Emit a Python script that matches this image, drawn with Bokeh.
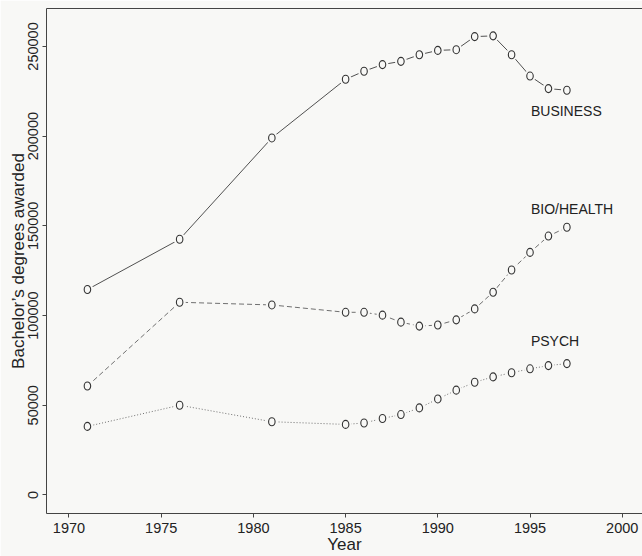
from bokeh.plotting import figure
from bokeh.models import Range1d, FixedTicker, BasicTickFormatter, LinearAxis, Label
from bokeh.embed import file_html
from bokeh.resources import INLINE

years = [1971, 1976, 1981, 1985, 1986, 1987, 1988, 1989, 1990, 1991, 1992, 1993, 1994, 1995, 1996, 1997]
business = [114500, 142500, 199000, 231700, 236200, 239900, 241700, 245400, 247800, 248200,
            255500, 255900, 245400, 233500, 226500, 225600]
bio_health = [60700, 107400, 105900, 101800, 101800, 100200, 96300, 94100, 94700, 97600,
              103700, 113000, 125400, 135200, 144300, 149200]
psych = [38200, 50000, 40800, 39300, 40100, 42600, 44800, 48500, 53500, 58400,
         62800, 65800, 68100, 70300, 72100, 73200]

series_names = ["BUSINESS", "BIO/HEALTH", "PSYCH"]
label_x = [1995.05, 1995.05, 1995.05]
label_y = [214200, 159500, 85600]

x_ticks = [1970, 1975, 1980, 1985, 1990, 1995, 2000]
y_ticks = [0, 50000, 100000, 150000, 200000, 250000]

BG = "#f8f8f6"
FONT = "Liberation Sans"

p = figure(width=642, height=556, output_backend="svg", toolbar_location=None,
           x_range=Range1d(1968.78, 2001.1), y_range=Range1d(-10360, 271160),
           min_border_left=46, min_border_right=0, min_border_top=8, min_border_bottom=42,
           background_fill_color=BG, border_fill_color=BG, outline_line_color=None)
p.grid.visible = False

styles = [("solid", "#505050"), ("5 3", "#707070"), ("1 2", "#707070")]
for vals, (dash, col) in zip([business, bio_health, psych], styles):
    p.line(years, vals, line_color=col, line_width=1, line_dash=dash)
    p.scatter(years, vals, size=12, fill_color=BG, line_color=None)
    p.ellipse(years, vals, width=6.5, height=8, width_units="screen", height_units="screen",
              fill_color=BG, line_color="#333333", line_width=1.1)

for name, lx, ly in zip(series_names, label_x, label_y):
    p.add_layout(Label(x=lx, y=ly, text=name, text_font=FONT, text_font_size="14px",
                       text_color="#222222", text_align="left", text_baseline="middle"))

for ax in (p.xaxis[0], p.yaxis[0]):
    ax.axis_line_color = "#444444"
    ax.major_tick_line_color = "#444444"
    ax.major_tick_out = 4
    ax.major_tick_in = 0
    ax.minor_tick_line_color = None
    ax.major_label_text_font = FONT
    ax.major_label_text_font_size = "14.5px"
    ax.major_label_text_color = "#222222"
    ax.axis_label_text_font = FONT
    ax.axis_label_text_font_size = "17px"
    ax.axis_label_text_font_style = "normal"
    ax.axis_label_text_color = "#222222"

p.xaxis[0].ticker = FixedTicker(ticks=x_ticks)
p.yaxis[0].ticker = FixedTicker(ticks=y_ticks)
p.yaxis[0].formatter = BasicTickFormatter(use_scientific=False)
p.yaxis[0].major_label_orientation = "vertical"
p.xaxis[0].axis_label = "Year"
p.yaxis[0].axis_label = "Bachelor\u2019s degrees awarded"
p.xaxis[0].major_label_standoff = 5
p.xaxis[0].axis_label_standoff = -1
p.yaxis[0].major_label_standoff = 4
p.yaxis[0].axis_label_standoff = -2

top = LinearAxis(axis_line_color="#444444", major_tick_line_color=None, minor_tick_line_color=None,
                 major_label_text_font_size="0px", major_label_standoff=0,
                 major_tick_out=0, major_tick_in=0)
top.ticker = FixedTicker(ticks=[])
p.add_layout(top, "above")

open("out.html", "w").write(file_html(p, INLINE))
